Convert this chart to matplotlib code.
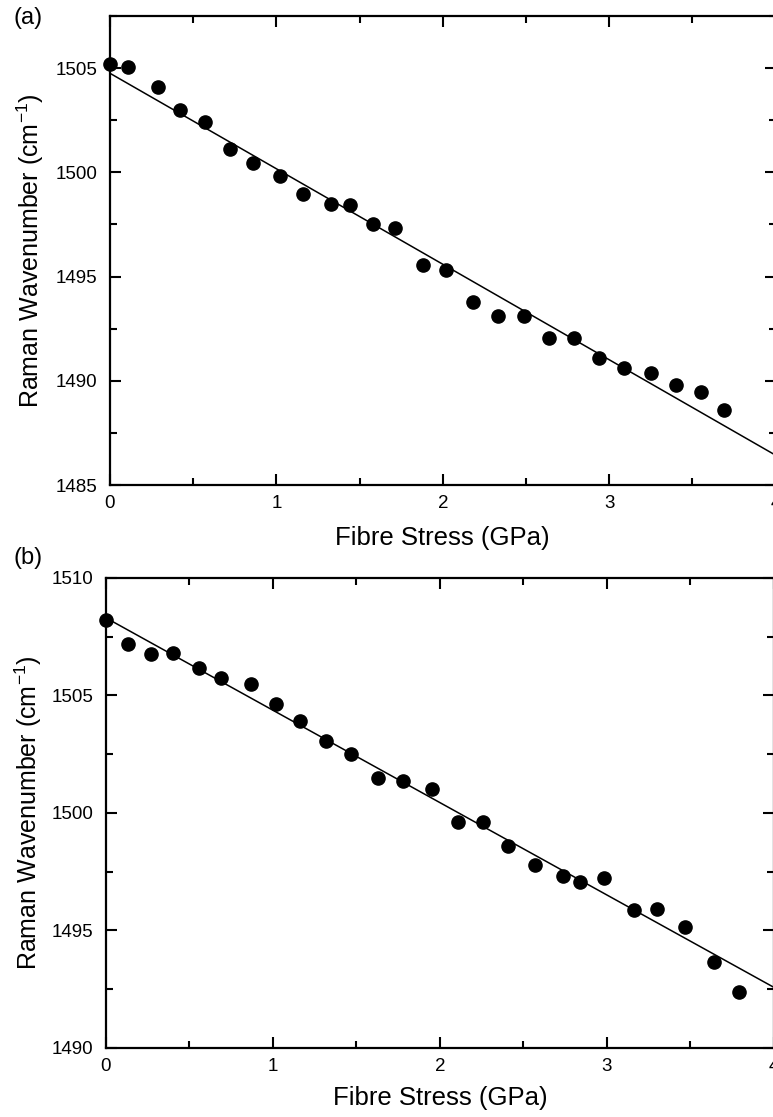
import matplotlib
matplotlib.use("Agg")
import matplotlib.pyplot as plt
from matplotlib.ticker import MultipleLocator

plt.rcParams["font.family"] = ["Liberation Sans", "DejaVu Sans"]
plt.rcParams["mathtext.default"] = "regular"

# ── Data ──────────────────────────────────────────────────────────────
stress_a = [0.00, 0.11, 0.29, 0.42, 0.57, 0.72, 0.86, 1.02, 1.16, 1.33, 1.44, 1.58, 1.71,
            1.88, 2.02, 2.18, 2.33, 2.49, 2.64, 2.79, 2.94, 3.09, 3.25, 3.40, 3.55, 3.69]
wavenum_a = [1505.2, 1505.05, 1504.1, 1503.0, 1502.4, 1501.1, 1500.45, 1499.8, 1498.95,
             1498.5, 1498.45, 1497.5, 1497.35, 1495.55, 1495.3, 1493.8, 1493.1, 1493.1,
             1492.05, 1492.05, 1491.1, 1490.6, 1490.35, 1489.8, 1489.45, 1488.6]
fit_a = (1504.75, -4.58)   # intercept, slope

stress_b = [0.00, 0.13, 0.27, 0.40, 0.56, 0.69, 0.87, 1.02, 1.16, 1.32, 1.47, 1.63, 1.78,
            1.95, 2.11, 2.26, 2.41, 2.57, 2.74, 2.84, 2.98, 3.16, 3.30, 3.47, 3.64, 3.79]
wavenum_b = [1508.2, 1507.2, 1506.75, 1506.8, 1506.15, 1505.75, 1505.5, 1504.65, 1503.9,
             1503.05, 1502.5, 1501.5, 1501.35, 1501.0, 1499.6, 1499.6, 1498.6, 1497.8,
             1497.3, 1497.05, 1497.25, 1495.85, 1495.9, 1495.15, 1493.65, 1492.4]
fit_b = (1508.3, -3.93)

panels = [
    # label, x, y, fit, ylim, axes rect, ylabel x, xlabel y
    ("(a)", stress_a, wavenum_a, fit_a, (1485, 1507.5), [0.1423, 0.5658, 0.861, 0.4199], -0.120, -0.113),
    ("(b)", stress_b, wavenum_b, fit_b, (1490, 1510), [0.1371, 0.0618, 0.864, 0.4208], -0.117, -0.106),
]
label_y = [1 - 18 / 1117, 1 - 558 / 1117]

fig = plt.figure(figsize=(7.73, 11.17), dpi=100)

for (tag, xs, ys, fit, ylim, rect, ylab_x, xlab_y), ty in zip(panels, label_y):
    ax = fig.add_axes(rect)
    xfit = [0, 4]
    yfit = [fit[0] + fit[1] * v for v in xfit]
    ax.plot(xfit, yfit, color="black", linewidth=1.1, zorder=2)
    ax.plot(xs, ys, "o", color="black", markersize=9.5, zorder=3, clip_on=False)

    ax.set_xlim(0, 4)
    ax.set_ylim(*ylim)
    ax.xaxis.set_major_locator(MultipleLocator(1))
    ax.xaxis.set_minor_locator(MultipleLocator(0.5))
    ax.yaxis.set_major_locator(MultipleLocator(5))
    ax.yaxis.set_minor_locator(MultipleLocator(2.5))
    ax.tick_params(which="both", direction="in", top=True, right=True, width=1.5)
    ax.tick_params(which="major", length=8, labelsize=13.5)
    ax.tick_params(axis="x", which="major", pad=7)
    ax.tick_params(axis="y", which="major", pad=9)
    ax.tick_params(which="minor", length=5)
    for sp in ax.spines.values():
        sp.set_linewidth(1.6)

    ax.set_xlabel("Fibre Stress (GPa)", fontsize=18.5, va="center")
    ax.xaxis.set_label_coords(0.5, xlab_y)
    ax.set_ylabel("Raman Wavenumber (cm$^{-1}$)", fontsize=18, va="center")
    ax.yaxis.set_label_coords(ylab_x, 0.5)

    fig.text(0.017, ty, tag, fontsize=17, ha="left", va="center")

fig.savefig("out.png", dpi=100)
